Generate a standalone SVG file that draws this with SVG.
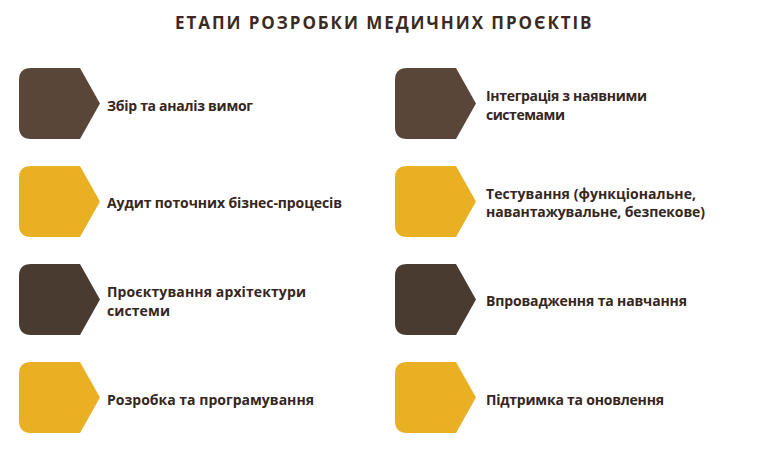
<svg xmlns="http://www.w3.org/2000/svg" xmlns:xlink="http://www.w3.org/1999/xlink" width="769" height="450" viewBox="0 0 769 450">
<style>
.title{font-family:"Open Sans","Liberation Sans",sans-serif;font-weight:700;font-size:17px;fill:#3b2a21;letter-spacing:1.5px}
.lbl{font-family:"Open Sans","Liberation Sans",sans-serif;font-weight:700;font-size:14px;fill:#35261e}
.brown{fill:#5a4639}
.dark{fill:#4a3b30}
.gold{fill:#e9b023}
</style>
<defs>
<path id="hex" d="M12,0 H61 L81,35.5 L61,71 H12 Q0,71 0,59 V12 Q0,0 12,0 Z"/>
</defs>
<rect width="769" height="450" fill="#ffffff"/>
<text class="title" x="384" y="29" text-anchor="middle" textLength="418">ЕТАПИ РОЗРОБКИ МЕДИЧНИХ ПРОЄКТІВ</text>
<g id="connectors"/>
<g id="node1">
<use xlink:href="#hex" href="#hex" class="brown" transform="translate(19,68)"/>
<text class="lbl" x="107" y="110.5" textLength="146">Збір та аналіз вимог</text>
</g>
<g id="node2">
<use xlink:href="#hex" href="#hex" class="gold" transform="translate(19,166)"/>
<text class="lbl" x="107" y="208" textLength="235">Аудит поточних бізнес-процесів</text>
</g>
<g id="node3">
<use xlink:href="#hex" href="#hex" class="dark" transform="translate(19,264)"/>
<text class="lbl" x="107" y="297" textLength="199">Проєктування архітектури</text>
<text class="lbl" x="107" y="315.5" textLength="63">системи</text>
</g>
<g id="node4">
<use xlink:href="#hex" href="#hex" class="gold" transform="translate(19,362)"/>
<text class="lbl" x="107" y="404.5" textLength="207">Розробка та програмування</text>
</g>
<g id="node5">
<use xlink:href="#hex" href="#hex" class="brown" transform="translate(395,68)"/>
<text class="lbl" x="486" y="101" textLength="161">Інтеграція з наявними</text>
<text class="lbl" x="486" y="119.5" textLength="79">системами</text>
</g>
<g id="node6">
<use xlink:href="#hex" href="#hex" class="gold" transform="translate(395,166)"/>
<text class="lbl" x="486" y="199" textLength="210">Тестування (функціональне,</text>
<text class="lbl" x="486" y="217" textLength="219">навантажувальне, безпекове)</text>
</g>
<g id="node7">
<use xlink:href="#hex" href="#hex" class="dark" transform="translate(395,264)"/>
<text class="lbl" x="486" y="306" textLength="201">Впровадження та навчання</text>
</g>
<g id="node8">
<use xlink:href="#hex" href="#hex" class="gold" transform="translate(395,362)"/>
<text class="lbl" x="486" y="404.5" textLength="178">Підтримка та оновлення</text>
</g>
</svg>
